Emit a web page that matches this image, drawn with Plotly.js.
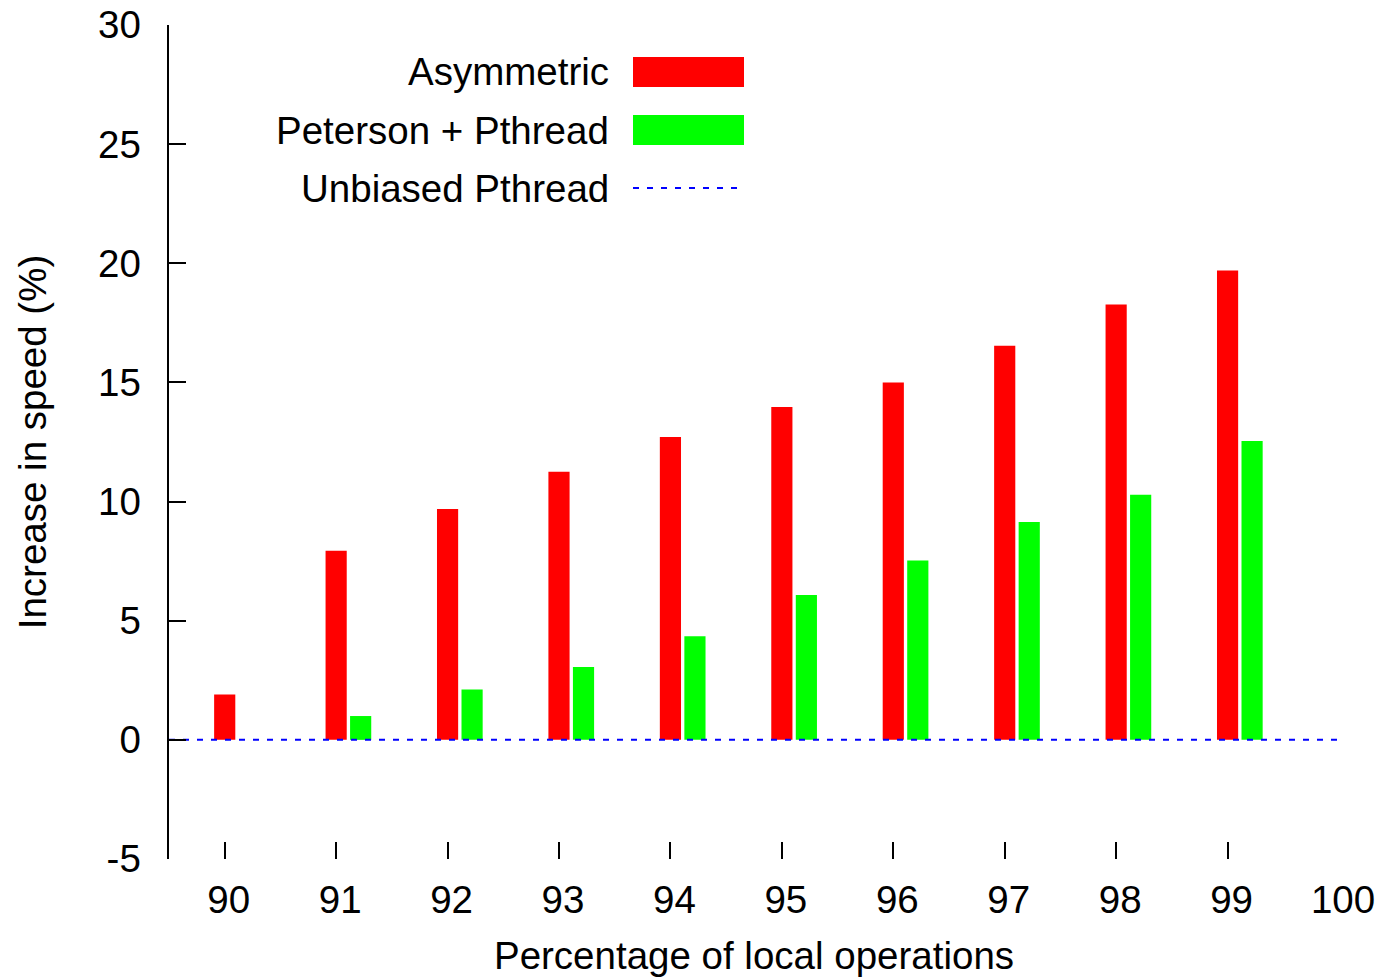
<!DOCTYPE html>
<html>
<head>
<meta charset="utf-8">
<script src="https://cdn.plot.ly/plotly-3.0.1.min.js"></script>
<style>html,body{margin:0;padding:0;background:#fff;}#chart{width:1383px;height:977px;}</style>
</head>
<body>
<div id="chart"></div>
<script>
// ---- data ----
const categories = [90, 91, 92, 93, 94, 95, 96, 97, 98, 99];
const asymmetric = [1.9, 7.94, 9.69, 11.25, 12.71, 13.97, 15.0, 16.54, 18.27, 19.7];
const petersonPthread = [null, 1.0, 2.11, 3.06, 4.35, 6.08, 7.53, 9.14, 10.29, 12.54];
const unbiasedPthread = 0; // baseline
const xTickVals = [90, 91, 92, 93, 94, 95, 96, 97, 98, 99, 100];
const xTickText = ['90', '91', '92', '93', '94', '95', '96', '97', '98', '99', '100'];
const yTickVals = [-5, 0, 5, 10, 15, 20, 25, 30];
const yTickText = ['-5', '0', '5', '10', '15', '20', '25', '30'];
const seriesNames = ['Asymmetric', 'Peterson + Pthread', 'Unbiased Pthread'];

// ---- styles ----
const xRange = [89.5, 100];
const yRange = [-5, 30];
const FONT = '"Liberation Sans", Arial, Helvetica, sans-serif';
const FS = 38.5;
const RED = '#ff0000', GREEN = '#00ff00', BLUE = '#0000ff';
const DASH = '6px,8px';

const traces = [
  {
    type: 'bar', name: seriesNames[0], x: categories, y: asymmetric,
    width: 0.19, offset: -0.095,
    marker: {color: RED, line: {width: 0}}, showlegend: false, hoverinfo: 'x+y'
  },
  {
    type: 'bar', name: seriesNames[1], x: categories, y: petersonPthread,
    width: 0.19, offset: 0.125,
    marker: {color: GREEN, line: {width: 0}}, showlegend: false, hoverinfo: 'x+y'
  },
  {
    type: 'scatter', mode: 'lines', name: seriesNames[2],
    x: xRange, y: [unbiasedPthread, unbiasedPthread],
    line: {color: BLUE, width: 2, dash: DASH}, showlegend: false, hoverinfo: 'skip'
  }
];

// plot area in pixels
const L = 169, R = 44, T = 25, B = 118;
const W = 1383, H = 977;
const pw = W - L - R, ph = H - T - B;
const px = v => (v - L) / pw;
const py = v => (H - B - v) / ph;

const legendRows = [72, 130, 188];
const shapes = [
  {type: 'rect', xref: 'paper', yref: 'paper', x0: px(633), x1: px(744), y0: py(87), y1: py(57),
   fillcolor: RED, line: {width: 0}},
  {type: 'rect', xref: 'paper', yref: 'paper', x0: px(633), x1: px(744), y0: py(145), y1: py(115),
   fillcolor: GREEN, line: {width: 0}},
  {type: 'line', xref: 'paper', yref: 'paper', x0: px(633), x1: px(738), y0: py(188), y1: py(188),
   line: {color: BLUE, width: 2, dash: DASH}}
];
const annotations = seriesNames.map((n, i) => ({
  xref: 'paper', yref: 'paper', x: px(611), y: py(legendRows[i]),
  xanchor: 'right', yanchor: 'middle', showarrow: false, text: n,
  font: {family: FONT, size: FS, color: '#000'}
}));

const layout = {
  width: W, height: H,
  margin: {l: L, r: R, t: T, b: B, pad: 0},
  paper_bgcolor: '#fff', plot_bgcolor: '#fff',
  font: {family: FONT, size: FS, color: '#000'},
  barmode: 'overlay',
  showlegend: false,
  xaxis: {
    range: xRange, tickmode: 'array', tickvals: xTickVals, ticktext: xTickText,
    ticks: 'inside', ticklen: 17, tickwidth: 2, tickcolor: '#000',
    showline: false, showgrid: false, zeroline: false,
    ticklabelstandoff: 14, ticklabelshift: 4,
    tickfont: {family: FONT, size: FS, color: '#000'},
    title: {text: 'Percentage of local operations', font: {family: FONT, size: FS, color: '#000'}, standoff: 22}
  },
  yaxis: {
    range: yRange, tickmode: 'array', tickvals: yTickVals, ticktext: yTickText,
    ticks: 'inside', ticklen: 17, tickwidth: 2, tickcolor: '#000',
    showline: true, linewidth: 2.5, linecolor: '#000', mirror: false,
    showgrid: false, zeroline: false,
    ticklabelstandoff: 18,
    tickfont: {family: FONT, size: FS, color: '#000'},
    title: {text: 'Increase in speed (%)', font: {family: FONT, size: FS, color: '#000'}, standoff: 40}
  },
  shapes: shapes,
  annotations: annotations
};

Plotly.newPlot('chart', traces, layout, {displayModeBar: false, staticPlot: true});
</script>
</body>
</html>
